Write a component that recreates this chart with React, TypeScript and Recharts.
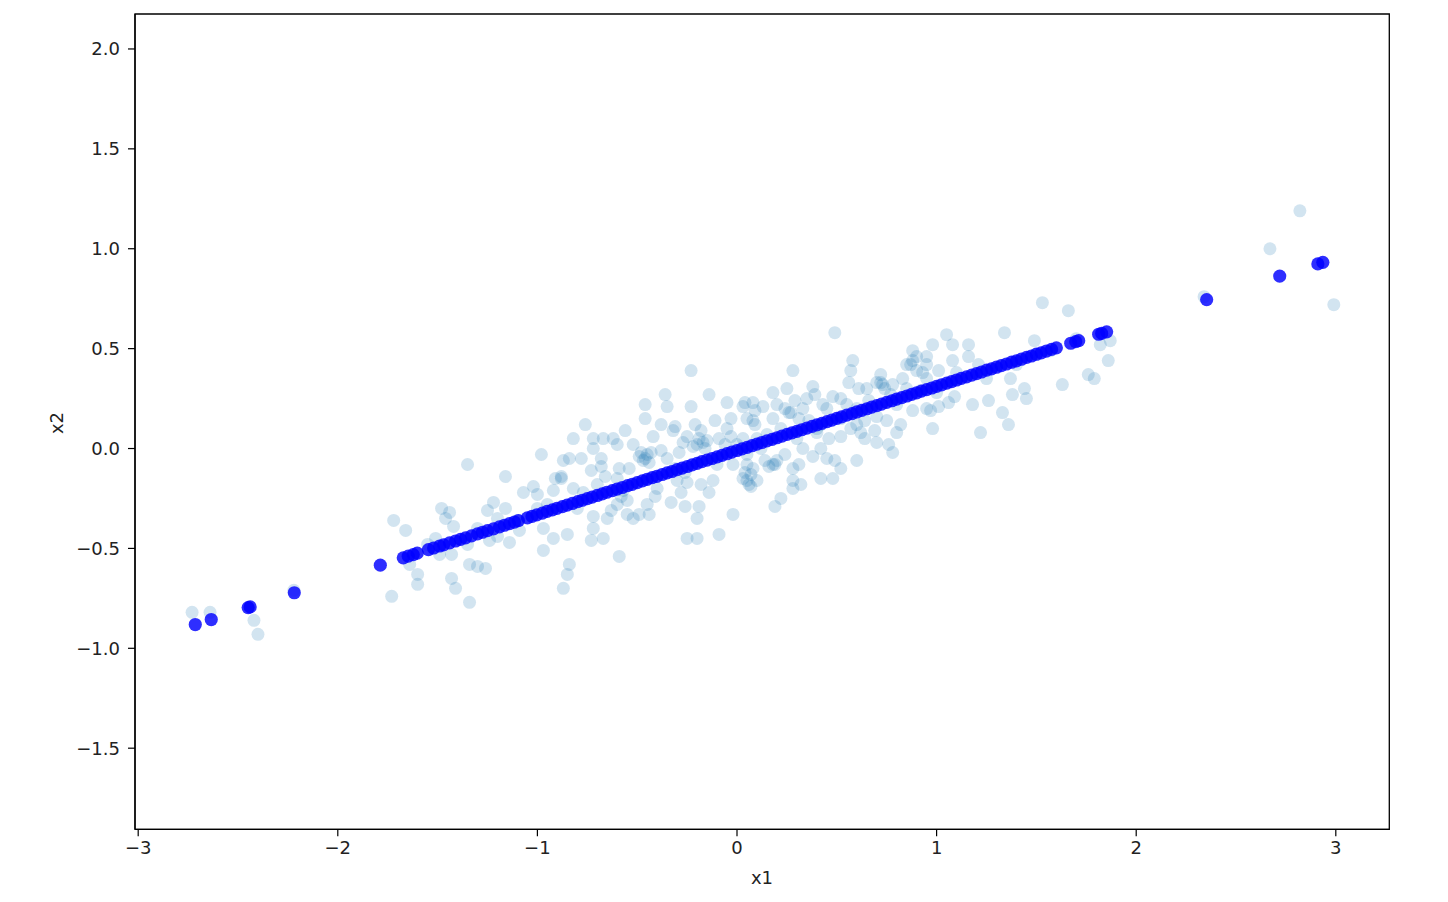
import React from 'react';
import { ScatterChart, Scatter, XAxis, YAxis, ReferenceArea } from 'recharts';

// Original samples (x1, x2), light markers
const originalPoints: [number, number][] = [
  [-2.73, -0.82], [-2.64, -0.82], [-2.42, -0.86], [-2.40, -0.93], [-2.22, -0.71], [-1.73, -0.74],
  [-1.64, -0.58], [-1.60, -0.63], [-1.60, -0.68],
  [-0.98, -0.03], [-1.35, -0.08], [-1.16, -0.14], [-0.87, -0.06], [-0.91, -0.15], [-0.88, -0.14],
  [-1.07, -0.22], [-1.02, -0.19], [-1.00, -0.23], [-0.92, -0.21], [-1.22, -0.27], [-1.25, -0.31],
  [-1.16, -0.30], [-1.48, -0.30], [-1.44, -0.32], [-1.46, -0.35], [-1.72, -0.36], [-1.66, -0.41],
  [-1.42, -0.39], [-1.51, -0.45], [-1.20, -0.44], [-1.09, -0.41], [-0.97, -0.40], [-0.92, -0.45],
  [-0.85, -0.43], [-1.14, -0.47], [-1.24, -0.46], [-0.97, -0.51], [-1.49, -0.53], [-1.43, -0.53],
  [-1.34, -0.58], [-1.30, -0.59], [-1.26, -0.60], [-1.43, -0.65], [-1.41, -0.70], [-1.34, -0.77],
  [-0.87, -0.70], [-0.84, -0.58], [-0.85, -0.63],
  [-0.36, 0.27], [-0.14, 0.27], [-0.46, 0.22], [-0.35, 0.21], [-0.23, 0.21], [-0.05, 0.23],
  [0.03, 0.21], [0.08, 0.23], [-0.46, 0.15], [-0.76, 0.12], [-0.31, 0.11], [-0.32, 0.09],
  [-0.21, 0.12], [-0.18, 0.09], [-0.11, 0.14], [-0.03, 0.15], [0.05, 0.15], [0.09, 0.12],
  [-0.56, 0.09], [-0.82, 0.05], [-0.72, 0.05], [-0.67, 0.05], [-0.62, 0.05], [-0.52, 0.02],
  [-0.42, 0.06], [-0.25, 0.06], [-0.15, 0.04], [-0.09, 0.05], [-0.03, 0.06], [0.03, 0.05],
  [-0.84, -0.05], [-0.78, -0.05], [-0.72, 0.00], [-0.46, -0.05], [-0.48, -0.02], [-0.43, -0.02],
  [-0.38, -0.01], [-0.29, -0.02], [-0.22, 0.01], [-0.27, 0.03], [-0.16, 0.00], [-0.02, -0.08],
  [0.05, -0.08], [-0.88, -0.15], [-0.73, -0.11], [-0.68, -0.09], [-0.66, -0.14], [-0.59, -0.10],
  [-0.54, -0.10], [-0.31, -0.10], [-0.26, -0.12], [-0.30, -0.16], [-0.25, -0.17], [-0.18, -0.18],
  [-0.12, -0.16], [0.03, -0.15], [0.06, -0.18], [-0.82, -0.20], [-0.77, -0.22], [-0.57, -0.21],
  [-0.41, -0.24], [-0.33, -0.27], [-0.26, -0.29], [-0.19, -0.29], [-0.60, -0.28], [-0.55, -0.26],
  [-0.55, -0.33], [-0.52, -0.35], [-0.49, -0.33], [-0.63, -0.31], [-0.65, -0.35], [-0.72, -0.34],
  [-0.44, -0.33], [-0.20, -0.35], [-0.02, -0.33], [-0.72, -0.40], [-0.67, -0.45], [-0.73, -0.46],
  [-0.25, -0.45], [-0.20, -0.45], [-0.09, -0.43], [-0.59, -0.54], [-0.23, 0.39],
  [0.49, 0.58], [0.28, 0.39], [0.58, 0.44], [0.57, 0.39], [0.88, 0.49], [0.98, 0.52],
  [0.85, 0.42], [0.90, 0.39], [0.95, 0.42], [0.72, 0.37], [1.01, 0.39], [0.56, 0.33],
  [0.61, 0.30], [0.65, 0.30], [0.70, 0.33], [0.73, 0.32], [0.78, 0.32], [0.18, 0.28],
  [0.25, 0.30], [0.38, 0.31], [0.39, 0.27], [0.83, 0.35], [0.92, 0.29], [0.04, 0.23],
  [0.09, 0.19], [0.13, 0.21], [0.29, 0.24], [0.48, 0.26], [0.52, 0.25], [0.43, 0.22],
  [0.33, 0.20], [0.77, 0.27], [0.80, 0.22], [0.97, 0.19], [0.88, 0.19], [0.08, 0.14],
  [0.18, 0.15], [0.26, 0.18], [0.31, 0.15], [0.36, 0.14], [0.22, 0.10], [0.15, 0.07],
  [0.52, 0.15], [0.57, 0.10], [0.60, 0.12], [0.64, 0.14], [0.69, 0.09], [0.75, 0.14],
  [0.82, 0.12], [0.80, 0.08], [0.98, 0.10], [0.40, 0.08], [0.46, 0.05], [0.52, 0.06],
  [0.64, 0.05], [0.70, 0.03], [0.76, 0.02], [0.78, -0.02], [0.42, 0.00], [0.33, 0.00],
  [0.31, -0.08], [0.24, -0.03], [0.19, -0.08], [0.14, -0.06], [0.08, -0.10], [0.05, -0.03],
  [0.49, -0.06], [0.52, -0.10], [0.45, -0.05], [0.60, -0.06], [0.42, -0.15], [0.48, -0.15],
  [0.28, -0.16], [0.32, -0.18], [0.28, -0.20], [0.10, -0.16], [0.07, -0.19], [0.22, -0.25],
  [0.19, -0.29],
  [1.53, 0.73], [1.66, 0.69], [1.34, 0.58], [1.05, 0.57], [1.08, 0.52], [1.16, 0.52],
  [1.16, 0.46], [1.49, 0.54], [0.95, 0.46], [1.08, 0.44], [1.21, 0.42], [0.93, 0.38],
  [1.82, 0.52], [1.87, 0.54], [1.86, 0.44], [1.37, 0.35], [1.44, 0.30], [1.38, 0.27],
  [1.45, 0.25], [1.76, 0.37], [1.79, 0.35], [1.63, 0.32], [1.26, 0.24], [1.18, 0.22],
  [1.09, 0.26], [1.06, 0.23], [0.95, 0.20], [1.01, 0.21], [1.33, 0.18], [1.36, 0.12],
  [1.22, 0.08],
  [1.40, 0.42], [1.50, 0.47], [1.57, 0.49], [1.70, 0.55], [-1.55, -0.48], [-1.30, -0.40],
  [-1.10, -0.36],
  [2.82, 1.19], [2.67, 1.00], [2.99, 0.72], [2.34, 0.76],
  // denser clusters in the middle of the cloud
  [-0.47, -0.06], [-0.45, -0.03], [-0.44, -0.07], [-0.49, -0.04], [0.05, -0.16], [0.07, -0.13],
  [0.04, -0.12], [-0.19, 0.05], [-0.17, 0.03], [-0.20, 0.02], [0.88, 0.44], [0.90, 0.46],
  [0.87, 0.42], [0.72, 0.33], [0.74, 0.30], [0.18, -0.08], [0.20, -0.06], [0.16, -0.09],
  [0.27, 0.18], [0.24, 0.20], [0.42, 0.12], [0.40, 0.10], [-0.95, -0.28], [-0.80, -0.30],
  [-0.70, -0.18], [-0.60, -0.15], [-0.40, -0.20], [-0.35, -0.05], [-0.10, -0.08], [0.00, 0.02],
  [0.10, 0.05], [0.30, 0.05], [0.45, 0.20], [0.60, 0.20], [0.70, 0.16], [0.85, 0.30],
  [1.00, 0.28], [1.10, 0.38], [1.25, 0.35], [-1.20, -0.35], [-1.35, -0.48], [-1.00, -0.30],
  [-0.58, -0.24], [0.55, 0.22], [0.62, 0.08], [-0.05, 0.10], [0.12, 0.00], [-0.38, 0.12],
  [-0.60, 0.02], [-0.68, -0.05], [0.35, 0.25], [0.66, 0.24], [0.95, 0.35], [-0.28, -0.22],
  [-0.14, -0.22], [-0.45, -0.28], [0.20, 0.22], [-0.06, 0.02], [0.28, -0.10], [0.38, -0.04],
];

// Samples projected onto the first principal axis, strong markers
const projectedPoints: [number, number][] = [
  [-2.714, -0.881], [-2.634, -0.856], [-2.449, -0.796], [-2.439, -0.793], [-2.218, -0.722],
  [-1.787, -0.584], [-1.672, -0.547], [-1.647, -0.539], [-1.622, -0.531], [-1.602, -0.524],
  [-1.546, -0.506], [-1.52, -0.498], [-1.49, -0.488], [-1.47, -0.482], [-1.44, -0.472],
  [-1.41, -0.463], [-1.385, -0.455], [-1.36, -0.447], [-1.33, -0.437], [-1.30, -0.427],
  [-1.275, -0.419], [-1.25, -0.411], [-1.22, -0.402], [-1.19, -0.392], [-1.165, -0.384],
  [-1.14, -0.376], [-1.115, -0.368], [-1.095, -0.361],
  [-1.050, -0.347], [-1.027, -0.340], [-1.003, -0.332], [-0.975, -0.323], [-0.951, -0.315],
  [-0.925, -0.307], [-0.902, -0.300], [-0.875, -0.291], [-0.851, -0.283], [-0.825, -0.275],
  [-0.798, -0.266], [-0.775, -0.259], [-0.750, -0.251], [-0.726, -0.243], [-0.700, -0.235],
  [-0.675, -0.227], [-0.652, -0.219], [-0.625, -0.211], [-0.601, -0.203], [-0.575, -0.195],
  [-0.548, -0.186], [-0.525, -0.179], [-0.500, -0.171], [-0.474, -0.162], [-0.450, -0.154],
  [-0.425, -0.146], [-0.401, -0.139], [-0.375, -0.130], [-0.350, -0.122], [-0.326, -0.115],
  [-0.300, -0.106], [-0.275, -0.098], [-0.249, -0.090], [-0.225, -0.082], [-0.200, -0.074],
  [-0.176, -0.066], [-0.150, -0.058], [-0.125, -0.050], [-0.099, -0.042], [-0.075, -0.034],
  [-0.050, -0.026], [-0.026, -0.018], [0.000, -0.010], [0.025, -0.002], [0.051, 0.006],
  [0.075, 0.014], [0.100, 0.022], [0.124, 0.030], [0.150, 0.038], [0.176, 0.046],
  [0.200, 0.054], [0.225, 0.062], [0.251, 0.071], [0.275, 0.078], [0.300, 0.086],
  [0.324, 0.094], [0.350, 0.102], [0.376, 0.111], [0.400, 0.118], [0.425, 0.126],
  [0.451, 0.135], [0.475, 0.142], [0.500, 0.151], [0.524, 0.158], [0.550, 0.167],
  [0.576, 0.175], [0.600, 0.183], [0.625, 0.191], [0.651, 0.199], [0.675, 0.207],
  [0.700, 0.215], [0.724, 0.222], [0.750, 0.231], [0.776, 0.239], [0.800, 0.247],
  [0.825, 0.255], [0.851, 0.263], [0.875, 0.271], [0.900, 0.279], [0.924, 0.287],
  [0.950, 0.295], [0.976, 0.303], [1.000, 0.311], [1.025, 0.319], [1.051, 0.327],
  [1.075, 0.335], [1.100, 0.343], [1.124, 0.351], [1.150, 0.359], [1.176, 0.367],
  [1.200, 0.375], [1.225, 0.383], [1.251, 0.392], [1.275, 0.399], [1.300, 0.407],
  [1.324, 0.415], [1.350, 0.423], [1.376, 0.432], [1.400, 0.439], [1.425, 0.447],
  [1.451, 0.456], [1.475, 0.463], [1.500, 0.472], [1.524, 0.479], [1.550, 0.488],
  [1.576, 0.496], [1.600, 0.504],
  [1.672, 0.527], [1.697, 0.535], [1.712, 0.540], [1.812, 0.572], [1.827, 0.576],
  [1.852, 0.584], [2.353, 0.745], [2.719, 0.863], [2.910, 0.924], [2.935, 0.932],
];

const xTicks = [-3, -2, -1, 0, 1, 2, 3];
const yTicks = [-1.5, -1.0, -0.5, 0.0, 0.5, 1.0, 1.5, 2.0];
const xDomain: [number, number] = [-3.016, 3.268];
const yDomain: [number, number] = [-1.906, 2.175];

const originalData = originalPoints.map(([x, y]) => ({ x, y }));
const projectedData = projectedPoints.map(([x, y]) => ({ x, y }));

const FONT = "'DejaVu Sans', 'Liberation Sans', sans-serif";
const minus = (s: string) => s.replace('-', '\u2212');

const LightDot = (p: any) => (
  <circle cx={p.cx} cy={p.cy} r={6.5} fill="#1f77b4" fillOpacity={0.2} />
);
const StrongDot = (p: any) => (
  <circle cx={p.cx} cy={p.cy} r={6.6} fill="#0000ff" fillOpacity={0.82} />
);

const YLabel = () => (
  <text
    x={56}
    y={423}
    transform="rotate(-90 56 423)"
    textAnchor="middle"
    dominantBaseline="central"
    fontSize={18}
    fontFamily={FONT}
    fill="#222"
  >
    x2
  </text>
);

const XLabel = () => (
  <text x={762} y={877} textAnchor="middle" dominantBaseline="central" fontSize={18} fontFamily={FONT} fill="#222">
    x1
  </text>
);

export default function App() {
  return (
    <div style={{ position: 'absolute', left: 0, top: 0, width: 1448, height: 902, background: '#fff' }}>
      <ScatterChart
        width={1448}
        height={902}
        margin={{ top: 14, right: 58.7, left: 55, bottom: 12.7 }}
      >
        <XAxis
          type="number"
          dataKey="x"
          domain={xDomain}
          ticks={xTicks}
          interval={0}
          allowDataOverflow
          height={60}
          tickSize={7}
          tickMargin={5}
          tickFormatter={(v: number) => minus(String(v))}
          tick={{ fill: '#222', fontSize: 18, fontFamily: FONT }}
          tickLine={{ stroke: '#000', strokeWidth: 1.2 }}
          axisLine={{ stroke: '#000', strokeWidth: 1.3 }}
          label={<XLabel />}
        />
        <YAxis
          type="number"
          dataKey="y"
          domain={yDomain}
          ticks={yTicks}
          interval={0}
          allowDataOverflow
          width={80}
          tickSize={7}
          tickMargin={8}
          tickFormatter={(v: number) => minus(v.toFixed(1))}
          tick={{ fill: '#222', fontSize: 18, fontFamily: FONT }}
          tickLine={{ stroke: '#000', strokeWidth: 1.2 }}
          axisLine={{ stroke: '#000', strokeWidth: 1.3 }}
          label={<YLabel />}
        />
        <ReferenceArea
          x1={xDomain[0]}
          x2={xDomain[1]}
          y1={yDomain[0]}
          y2={yDomain[1]}
          fill="none"
          stroke="#000"
          strokeWidth={1.3}
          fillOpacity={0}
        />
        <Scatter data={originalData} shape={LightDot} isAnimationActive={false} />
        <Scatter data={projectedData} shape={StrongDot} isAnimationActive={false} />
      </ScatterChart>
    </div>
  );
}
